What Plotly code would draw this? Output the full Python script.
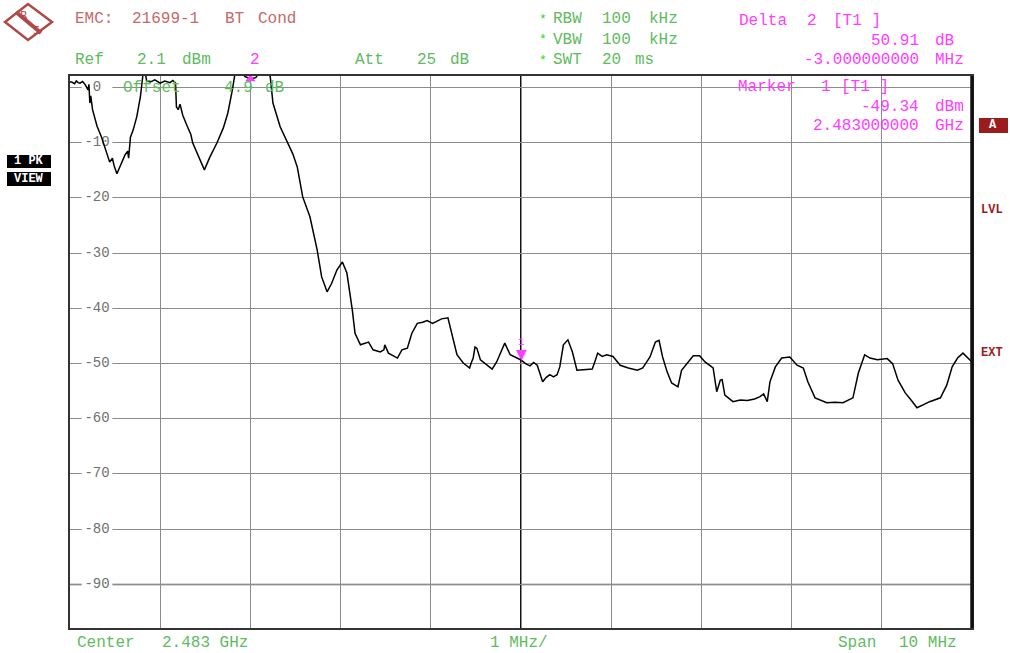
import plotly.graph_objects as go

# ---------------- data ----------------
freq_mhz = [
    2478.00, 2478.02, 2478.05, 2478.07, 2478.09, 2478.11, 2478.14, 2478.17, 2478.20, 2478.21,
    2478.22, 2478.23, 2478.25, 2478.30, 2478.35, 2478.41, 2478.44, 2478.47, 2478.49, 2478.52,
    2478.55, 2478.61, 2478.64, 2478.65, 2478.67, 2478.70, 2478.74, 2478.78, 2478.81, 2478.83,
    2478.85, 2478.89, 2478.94, 2479.00, 2479.05, 2479.11, 2479.14, 2479.17, 2479.18, 2479.20,
    2479.22, 2479.25, 2479.30, 2479.34, 2479.36, 2479.42, 2479.49, 2479.55, 2479.63, 2479.70,
    2479.75, 2479.80, 2479.83, 2479.88, 2479.94, 2480.00, 2480.06, 2480.12, 2480.18, 2480.22,
    2480.25, 2480.33, 2480.41, 2480.47, 2480.52, 2480.58, 2480.66, 2480.74, 2480.79, 2480.85,
    2480.90, 2480.96, 2481.02, 2481.07, 2481.13, 2481.16, 2481.22, 2481.27, 2481.31, 2481.36,
    2481.44, 2481.48, 2481.49, 2481.53, 2481.63, 2481.68, 2481.74, 2481.79, 2481.85, 2481.91,
    2481.96, 2482.02, 2482.07, 2482.12, 2482.19, 2482.24, 2482.29, 2482.36, 2482.43, 2482.45,
    2482.47, 2482.49, 2482.51, 2482.55, 2482.62, 2482.68, 2482.73, 2482.79, 2482.82, 2482.88,
    2482.96, 2483.00, 2483.05, 2483.10, 2483.14, 2483.18, 2483.24, 2483.28, 2483.32, 2483.36,
    2483.40, 2483.43, 2483.47, 2483.52, 2483.57, 2483.62, 2483.69, 2483.79, 2483.82, 2483.85,
    2483.90, 2483.95, 2484.02, 2484.10, 2484.19, 2484.29, 2484.35, 2484.43, 2484.49, 2484.53,
    2484.57, 2484.62, 2484.67, 2484.74, 2484.78, 2484.84, 2484.91, 2484.98, 2485.04, 2485.13,
    2485.17, 2485.21, 2485.23, 2485.26, 2485.35, 2485.43, 2485.51, 2485.59, 2485.65, 2485.69,
    2485.73, 2485.76, 2485.82, 2485.89, 2485.98, 2486.06, 2486.13, 2486.18, 2486.26, 2486.39,
    2486.48, 2486.57, 2486.68, 2486.74, 2486.81, 2486.87, 2486.95, 2487.06, 2487.12, 2487.18,
    2487.26, 2487.32, 2487.39, 2487.48, 2487.53, 2487.65, 2487.72, 2487.78, 2487.84, 2487.90,
    2487.96, 2488.00,
]
level_dbm = [
    1.0, 1.0, 0.7, 1.2, 0.9, 0.8, 1.1, 0.5, -0.4, 0.6,
    -2.8, -1.5, -4.0, -7.0, -9.0, -11.8, -13.5, -12.8, -14.2, -15.6,
    -14.4, -12.2, -11.5, -12.8, -9.0, -7.7, -5.3, -1.7, 2.5, 3.0,
    1.2, 1.0, 1.4, 0.8, 1.2, 0.9, 1.3, 0.8, -3.5, -4.0,
    -3.0, -5.0, -7.0, -8.5, -10.0, -12.2, -14.9, -12.6, -10.0, -7.3,
    -4.6, -0.4, 2.6, 3.2, 2.0, 1.6, 1.8, 3.2, 2.8, 2.0,
    -2.8, -7.1, -10.0, -12.0, -14.4, -19.8, -23.4, -29.4, -34.3, -37.0,
    -35.5, -33.0, -31.6, -33.6, -40.3, -44.5, -46.6, -46.3, -46.1, -47.5,
    -47.9, -47.5, -46.6, -48.1, -49.0, -47.5, -47.2, -44.5, -42.7, -42.5,
    -42.2, -42.7, -42.3, -41.9, -41.7, -45.1, -48.4, -49.9, -50.8, -49.8,
    -49.0, -47.0, -47.2, -49.3, -50.3, -51.0, -49.7, -47.2, -46.3, -48.4,
    -49.0, -49.34, -50.0, -50.4, -49.8, -50.3, -53.3, -52.5, -52.0, -52.4,
    -52.0, -50.6, -46.6, -45.7, -47.9, -51.2, -51.1, -51.0, -49.6, -48.1,
    -48.7, -48.4, -48.7, -50.3, -50.8, -51.2, -50.8, -48.8, -46.1, -45.8,
    -48.8, -51.5, -53.5, -54.2, -51.2, -50.0, -48.6, -48.6, -49.7, -50.8,
    -55.1, -53.0, -52.9, -55.7, -56.9, -56.6, -56.7, -56.4, -56.0, -55.5,
    -56.9, -53.3, -50.6, -49.0, -48.8, -50.3, -50.8, -53.3, -56.2, -57.1,
    -57.0, -57.1, -56.2, -51.7, -48.4, -49.0, -49.3, -49.1, -50.0, -53.0,
    -55.3, -56.5, -58.0, -57.3, -56.9, -56.2, -53.9, -50.6, -49.0, -48.1,
    -49.0, -49.7,
]

marker_freq_mhz = [2483.0, 2480.0]
marker_level_dbm = [-49.34, 1.57]
marker_names = ["1", "2"]

y_ticks = [0, -10, -20, -30, -40, -50, -60, -70, -80, -90]
y_tick_labels = ["0", "-10", "-20", "-30", "-40", "-50", "-60", "-70", "-80", "-90"]

ref_level = 2.1
center_mhz = 2483.0
span_mhz = 10.0

# ---------------- styling ----------------
MONO = "Liberation Mono"
GREEN = "#5fbb5f"
STAR = "#22dd22"
MAGENTA = "#ff3cff"
BROWN = "#c46a6a"
DARKRED = "#9b1c1c"
GRID = "#8c8c8c"
FS = 16

L, R, T, B = 70, 38, 76, 25
W, H = 1010, 653
PW, PH = W - L - R, H - T - B


def px(x):
    return (x - L) / PW


def py(y):
    return (H - B - y) / PH


fig = go.Figure()

# tick labels drawn as text so the trace passes over them
fig.add_trace(go.Scatter(
    x=[center_mhz - span_mhz / 2 + 0.30] * len(y_ticks), y=y_ticks, text=y_tick_labels,
    mode="text", textfont=dict(family=MONO, size=14, color="#707070"),
    hoverinfo="skip", cliponaxis=False,
))

fig.add_trace(go.Scatter(
    x=freq_mhz, y=level_dbm, mode="lines",
    line=dict(color="black", width=1.5), hoverinfo="skip",
))

# marker 2 (delta marker) at the top of the screen
fig.add_trace(go.Scatter(
    x=[marker_freq_mhz[1]], y=[marker_level_dbm[1]], mode="markers",
    marker=dict(symbol="triangle-up", size=9, color=MAGENTA), hoverinfo="skip",
    cliponaxis=False,
))

shapes = []
# white boxes behind y labels (hide grid stubs)
for v in y_ticks:
    shapes.append(dict(type="rect", xref="x", yref="y",
                       x0=center_mhz - span_mhz / 2 + 0.13, x1=center_mhz - span_mhz / 2 + 0.47,
                       y0=v - 0.9, y1=v + 0.9, fillcolor="white", line=dict(width=0),
                       layer="between"))
# -90 line appears lighter/thicker
shapes.append(dict(type="line", xref="paper", yref="y", x0=0, x1=1, y0=-90, y1=-90,
                   line=dict(color="#c8c8c8", width=2.5), layer="between"))
# center line
shapes.append(dict(type="line", xref="x", yref="paper", x0=center_mhz, x1=center_mhz, y0=0, y1=1,
                   line=dict(color="#111111", width=2), layer="between"))
# thick right border
shapes.append(dict(type="line", xref="paper", yref="paper", x0=1, x1=1, y0=0, y1=1,
                   line=dict(color="#111111", width=3.5)))
# R&S logo
shapes.append(dict(type="path", xref="paper", yref="paper",
                   path=f"M {px(5)} {py(22)} L {px(28)} {py(4)} L {px(52)} {py(22)} L {px(28)} {py(40)} Z",
                   line=dict(color="#b04848", width=2.5), fillcolor="white"))
shapes.append(dict(type="line", xref="paper", yref="paper",
                   x0=px(16), y0=py(12), x1=px(41), y1=py(33),
                   line=dict(color="#b04848", width=4)))
# side boxes
shapes.append(dict(type="rect", xref="paper", yref="paper", x0=px(7), x1=px(51), y0=py(168), y1=py(155),
                   fillcolor="black", line=dict(width=0)))
shapes.append(dict(type="rect", xref="paper", yref="paper", x0=px(7), x1=px(51), y0=py(186), y1=py(172),
                   fillcolor="black", line=dict(width=0)))
shapes.append(dict(type="rect", xref="paper", yref="paper", x0=px(979), x1=px(1008), y0=py(133), y1=py(118),
                   fillcolor=DARKRED, line=dict(width=0)))

annotations = []


def label(text, x, y, color, anchor="left", size=FS, family=MONO):
    annotations.append(dict(text=text, x=px(x), y=py(y), xref="paper", yref="paper", showarrow=False,
                            xanchor=anchor, yanchor="middle",
                            font=dict(family=family, size=size, color=color)))


# marker 1 symbol sits just above the trace point, with its number above it
annotations.append(dict(text="▼", x=marker_freq_mhz[0], y=marker_level_dbm[0], xref="x", yref="y",
                        showarrow=False, yanchor="bottom", yshift=-4,
                        font=dict(family="DejaVu Sans", size=14, color=MAGENTA)))
annotations.append(dict(text=marker_names[0], x=marker_freq_mhz[0], y=marker_level_dbm[0], xref="x", yref="y",
                        showarrow=False, yanchor="bottom", yshift=10,
                        font=dict(family=MONO, size=11, color=MAGENTA)))

# logo letters
label("R", 18, 15, "#b04848", size=11, family="DejaVu Sans")
label("S", 31, 30, "#b04848", size=11, family="DejaVu Sans")

# header
label("EMC:", 73, 19, BROWN)
label("21699-1", 130, 19, BROWN)
label("BT", 223, 19, BROWN)
label("Cond", 256, 19, BROWN)

label("Ref", 73, 60, GREEN)
label("2.1", 135, 60, GREEN)
label("dBm", 180, 60, GREEN)
label(marker_names[1], 248, 60, MAGENTA)
label("Att", 353, 60, GREEN)
label("25", 415, 60, GREEN)
label("dB", 448, 60, GREEN)

for yy, a, b, c in [(19, "RBW", "100", "kHz"), (40, "VBW", "100", "kHz"), (60, "SWT", "20", "ms")]:
    label("*", 537, yy, STAR, size=13)
    label(a, 551, yy, GREEN)
    label(b, 600, yy, GREEN)
    label(c, 647 if c == "kHz" else 633, yy, GREEN)

label("Delta", 737, 21, MAGENTA)
label("2", 805, 21, MAGENTA)
label("[T1 ]", 831, 21, MAGENTA)
label("50.91", 921, 41, MAGENTA, anchor="right")
label("dB", 933, 41, MAGENTA)
label("-3.000000000", 921, 60, MAGENTA, anchor="right")
label("MHz", 933, 60, MAGENTA)

label("Marker", 736, 87, MAGENTA)
label("1", 819, 87, MAGENTA)
label("[T1 ]", 839, 87, MAGENTA)
label("-49.34", 921, 107, MAGENTA, anchor="right")
label("dBm", 933, 107, MAGENTA)
label("2.483000000", 921, 126, MAGENTA, anchor="right")
label("GHz", 933, 126, MAGENTA)

label("Offset", 121, 88, GREEN)
label("4.9", 222, 88, GREEN)
label("dB", 263, 88, GREEN)

# side labels
label("<b>1 PK</b>", 29, 161, "white", anchor="center", size=12)
label("<b>VIEW</b>", 29, 179, "white", anchor="center", size=12)
label("<b>A</b>", 993, 125, "white", anchor="center", size=12)
label("<b>LVL</b>", 979, 210, DARKRED, size=12)
label("<b>EXT</b>", 979, 353, DARKRED, size=12)

# bottom
label("Center", 75, 643, GREEN)
label("2.483 GHz", 160, 643, GREEN)
label("1 MHz/", 488, 643, GREEN)
label("Span", 836, 643, GREEN)
label("10 MHz", 897, 643, GREEN)

fig.update_layout(
    width=W, height=H,
    margin=dict(l=L, r=R, t=T, b=B, pad=0),
    paper_bgcolor="white", plot_bgcolor="white",
    showlegend=False,
    shapes=shapes, annotations=annotations,
    xaxis=dict(range=[center_mhz - span_mhz / 2, center_mhz + span_mhz / 2],
               tick0=center_mhz - span_mhz / 2, dtick=1,
               showgrid=True, gridcolor=GRID, gridwidth=1,
               showline=True, linecolor="#333333", linewidth=2, mirror=True,
               showticklabels=False, ticks="", zeroline=False, fixedrange=True),
    yaxis=dict(range=[ref_level - 100, ref_level], tickvals=y_ticks,
               showgrid=True, gridcolor=GRID, gridwidth=1,
               showline=True, linecolor="#333333", linewidth=2, mirror=True,
               showticklabels=False, ticks="", zeroline=False, fixedrange=True),
)

fig.write_html("out.html", config={"displayModeBar": False},
               post_script="document.body.style.margin='0';document.body.style.overflow='hidden';")
